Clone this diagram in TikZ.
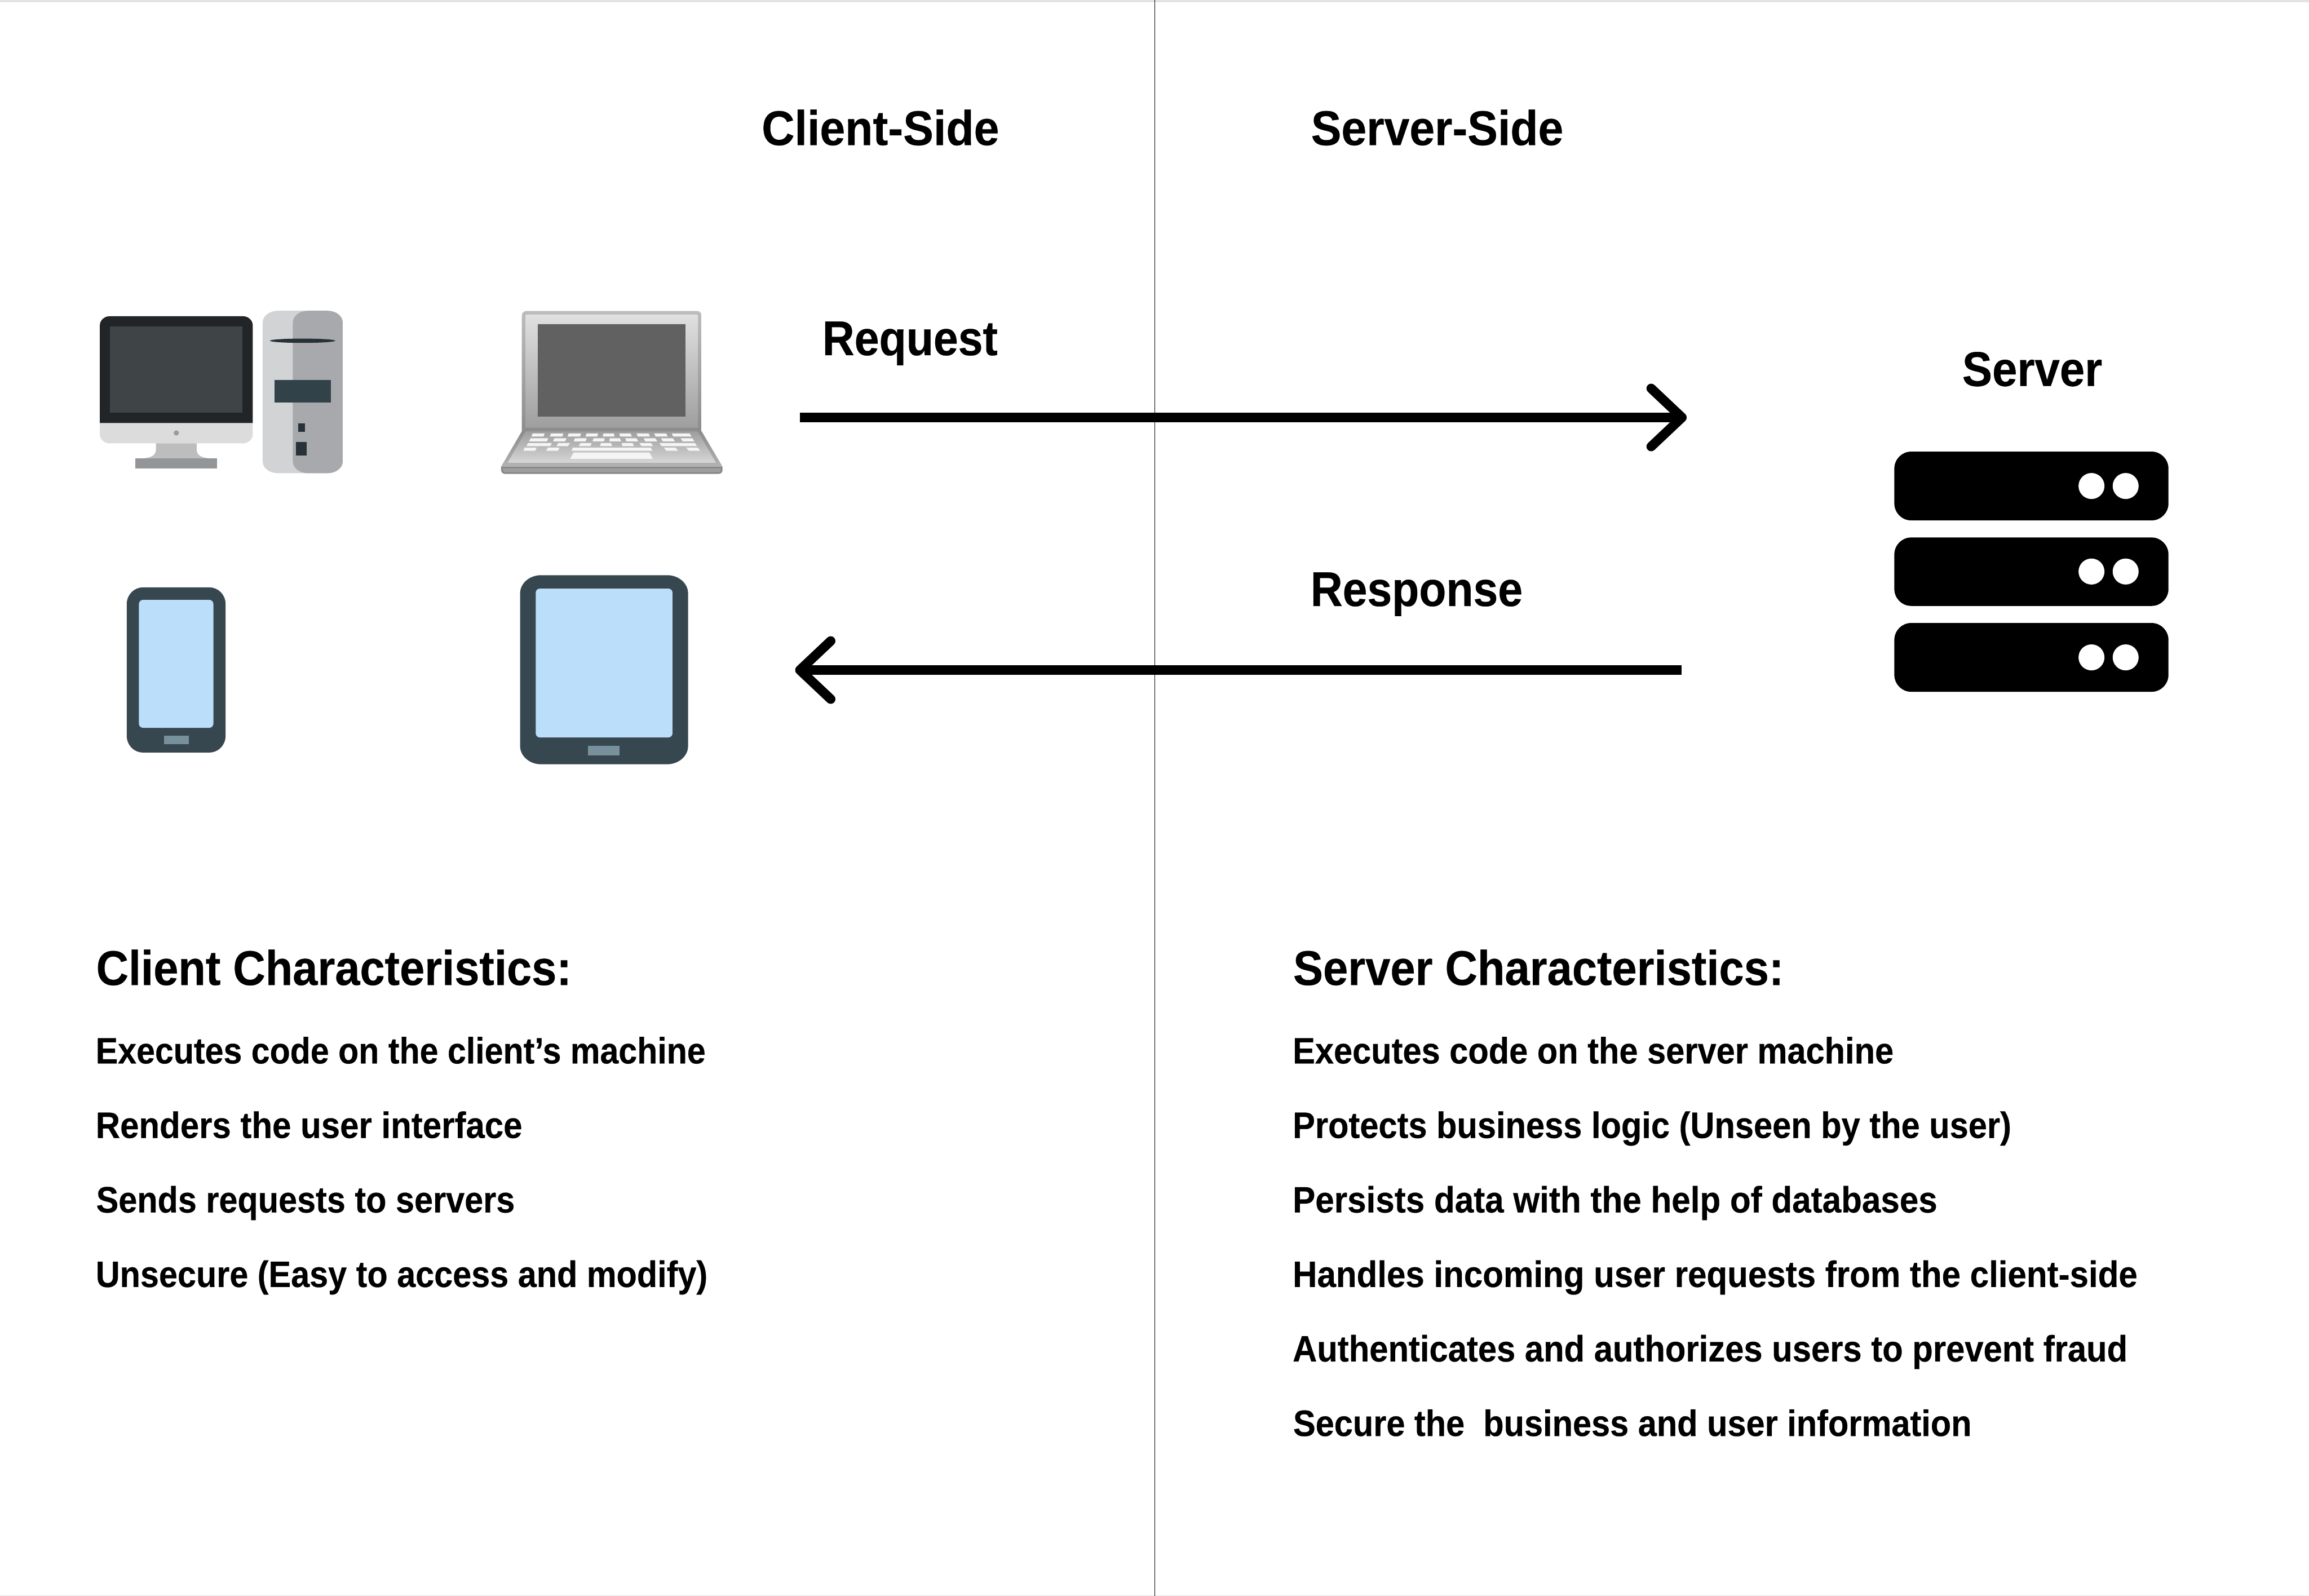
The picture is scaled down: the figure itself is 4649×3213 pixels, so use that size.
\documentclass[tikz,border=0pt]{standalone}
\usepackage{fontspec}
\usepackage{graphicx}
\setmainfont[BoldFeatures={FakeBold=0.4}]{Liberation Sans}
\usetikzlibrary{arrows.meta}
\newlength{\ulen}\setlength{\ulen}{0.01cm}
\newcommand{\fitw}[2]{\resizebox{#1\ulen}{\height}{#2}}
\newcommand{\rrpath}[6]{({#1+#5},#2) -- ({#3-#5},#2) .. controls ({#3-.45*#5},#2) and (#3,{#2+.45*#6}) .. (#3,{#2+#6}) -- (#3,{#4-#6}) .. controls (#3,{#4-.45*#6}) and ({#3-.45*#5},#4) .. ({#3-#5},#4) -- ({#1+#5},#4) .. controls ({#1+.45*#5},#4) and (#1,{#4-.45*#6}) .. (#1,{#4-#6}) -- (#1,{#2+#6}) .. controls (#1,{#2+.45*#6}) and ({#1+.45*#5},#2) .. ({#1+#5},#2) -- cycle}
\newcommand{\kbkey}[6]{\fill[keycol] (#1,#5) -- (#2,#5) -- (#3,#6) -- (#4,#6) -- cycle;}
\newcommand{\kbrow}[3]{\foreach \ka/\kb/\kc/\kd in {#3} {\kbkey{\ka}{\kb}{\kc}{\kd}{#1}{#2}}}
\definecolor{keycol}{HTML}{F5F5F5}
\definecolor{slate}{HTML}{37474F}
\definecolor{skyscreen}{HTML}{BBDEFB}
\definecolor{slatebtn}{HTML}{78909C}
\definecolor{edgeband}{HTML}{E3E3E3}
\definecolor{monsilver}{RGB}{220,220,220}
\definecolor{mondark}{RGB}{33,37,40}
\definecolor{monscreen}{RGB}{63,68,71}
\definecolor{mondot}{RGB}{154,157,159}
\definecolor{monstand}{RGB}{189,189,189}
\definecolor{monbase}{RGB}{147,150,152}
\definecolor{towerlight}{RGB}{209,211,212}
\definecolor{towerdark}{RGB}{167,169,172}
\definecolor{towerslot}{RGB}{38,50,56}
\definecolor{towerpanel}{RGB}{49,67,73}
\tikzset{
  headtext/.style={anchor=base west,inner sep=0pt,font=\bfseries\fontsize{27.9pt}{30pt}\selectfont},
  bodytext/.style={anchor=base west,inner sep=0pt,font=\bfseries\fontsize{21pt}{24pt}\selectfont},
  flow/.style={line width=0.19cm,-{Straight Barb[length=0.62cm,width=1.17cm,round]}},
  divider/.style={line width=0.014cm,black}
}
\begin{document}
\begin{tikzpicture}[x=0.01cm,y=-0.01cm]
\useasboundingbox (0,0) rectangle (4649,3213);
\fill[white] (0,0) rectangle (4649,3213);
\fill[edgeband] (0,0) rectangle (4649,4);
\fill[edgeband] (0,3212) rectangle (4649,3213);
\coordinate (divtop) at (2325,0);
\coordinate (divbot) at (2325,3213);
\draw[divider] (divtop) -- (divbot);

% desktop
\begin{scope}[shift={(160,590)},xscale=1/2.8,yscale=1/3]
\fill[monsilver] (115,785) -- (115,853) .. controls (115,883) and (140,908) .. (170,908) -- (922,908) .. controls (952,908) and (977,883) .. (977,853) -- (977,785) -- cycle;
\fill[mondark] (115,785) -- (115,195) .. controls (115,165) and (140,140) .. (170,140) -- (922,140) .. controls (952,140) and (977,165) .. (977,195) -- (977,785) -- cycle;
\fill[monscreen] (173,203) rectangle (918,724);
\fill[mondot] (546,845) ellipse [x radius=15,y radius=16];
\fill[monstand] (431,908) -- (431,945) .. controls (431,990) and (390,1000) .. (316,1000) -- (776,1000) .. controls (702,1000) and (661,990) .. (661,945) -- (661,908) -- cycle;
\fill[monbase] (316,1000) rectangle (776,1061);
\fill[towerlight] \rrpath{1033}{107}{1484}{1088}{85}{70};
\fill[towerdark] \rrpath{1203}{107}{1484}{1088}{85}{70};
\fill[towerslot] (1258,288) ellipse [x radius=184,y radius=13];
\fill[towerpanel] (1100,525) rectangle (1418,661);
\fill[towerslot] (1232,786) rectangle (1270,839);
\fill[towerslot] (1221,898) rectangle (1281,980);
\end{scope}

% laptop
\begin{scope}[shift={(980,600)},scale=1/3]
\shade[top color=black!26,bottom color=black!45] (212,805) -- (212,108) .. controls (212,90) and (225,78) .. (240,78) -- (1270,78) .. controls (1285,78) and (1298,90) .. (1298,108) -- (1298,805) -- cycle;
\shade[top color=black!12,bottom color=black!38] (234,783) -- (234,108) .. controls (234,104) and (237,100) .. (242,100) -- (1268,100) .. controls (1272,100) and (1276,104) .. (1276,108) -- (1276,783) -- cycle;
\fill[black!62] (309,158) rectangle (1199,717);
\shade[top color=black!45,bottom color=black!30] (212,805) -- (87,1018) -- (1424,1018) -- (1298,805) -- cycle;
\shade[top color=black!38,bottom color=black!16] (236,805) -- (126,995) -- (1385,995) -- (1274,805) -- cycle;
\fill[black!47] (87,1018) -- (1424,1018) -- (1424,1040) .. controls (1424,1052) and (1414,1062) .. (1402,1062) -- (109,1062) .. controls (97,1062) and (87,1052) .. (87,1040) -- cycle;
\fill[black!38] (97,1028) -- (1414,1028) -- (1414,1040) .. controls (1414,1046) and (1408,1052) .. (1402,1052) -- (109,1052) .. controls (103,1052) and (97,1046) .. (97,1040) -- cycle;
\kbrow{818}{837}{277/350/343/270,388/463/456/381,495/570/563/488,603/673/667/597,705/768/772/701,801/868/877/806,905/978/986/913,1011/1084/1093/1020,1118/1226/1237/1127}
\kbrow{847}{866}{265/372/363/255,408/482/473/401,532/605/596/526,645/713/708/639,743/805/811/741,837/905/915/843,948/1018/1030/958,1053/1124/1137/1064,1171/1242/1254/1184}
\kbrow{876}{895}{250/393/383/240,432/503/490/421,565/634/626/557,689/752/756/685,815/881/890/819,922/992/1005/935,1044/1258/1270/1056}
\kbrow{904}{923}{229/301/293/221,368/439/431/359,520/991/1000/512,1071/1140/1156/1085,1205/1274/1290/1221}
\kbrow{933}{971}{525/982/1003/504}
\end{scope}

% phone and tablet
\begin{scope}[shift={(220,1130)},xscale=1/1.3067,yscale=1/3]
\fill[slate] \rrpath{46}{158}{306}{1155}{42}{100};
\fill[skyscreen] \rrpath{78}{233}{274}{1006}{11}{25};
\fill[slatebtn] (144,1053) rectangle (209,1106);
\fill[slate] \rrpath{1081}{84}{1523}{1226}{55}{110};
\fill[skyscreen] \rrpath{1122}{165}{1482}{1064}{11}{25};
\fill[slatebtn] (1260,1116) rectangle (1343,1172);
\end{scope}

% server
\begin{scope}[shift={(3780,880)},xscale=1/2.529,yscale=1/2.904]
\foreach \ya/\yb/\yc in {85/487/286,587/987/786,1087/1489/1288}{
  \fill[black] \rrpath{86}{\ya}{1482}{\yb}{85}{100};
  \fill[white] (1090,\yc) ellipse [x radius=66,y radius=76];
  \fill[white] (1264,\yc) ellipse [x radius=66,y radius=76];
}
\end{scope}

% connectors
\coordinate (reqstart) at (1610,840.5);
\coordinate (reqend) at (3396,840.5);
\coordinate (respstart) at (3386,1349);
\coordinate (respend) at (1601,1349);
\draw[flow] (reqstart) -- (reqend);
\draw[flow] (respstart) -- (respend);

% labels
\node[headtext] (clientside) at (1533,292) {\fitw{478}{Client-Side}};
\node[headtext] (serverside) at (2639,292) {\fitw{508}{Server-Side}};
\node[headtext] (request) at (1655,715) {\fitw{353}{Request}};
\node[headtext] (response) at (2638,1220) {\fitw{427}{Response}};
\node[headtext] (server) at (3950,777) {\fitw{282}{Server}};
\node[headtext] (clienthead) at (193,1983) {\fitw{957}{Client Characteristics:}};
\node[headtext] (serverhead) at (2603,1983) {\fitw{988}{Server Characteristics:}};
\node[bodytext] (c1) at (192,2141) {\fitw{1228}{Executes code on the client’s machine}};
\node[bodytext] (c2) at (192,2291) {\fitw{859}{Renders the user interface}};
\node[bodytext] (c3) at (193,2441) {\fitw{843}{Sends requests to servers}};
\node[bodytext] (c4) at (192,2591) {\fitw{1232}{Unsecure (Easy to access and modify)}};
\node[bodytext] (s1) at (2602,2141) {\fitw{1210}{Executes code on the server machine}};
\node[bodytext] (s2) at (2602,2291) {\fitw{1447}{Protects business logic (Unseen by the user)}};
\node[bodytext] (s3) at (2602,2441) {\fitw{1298}{Persists data with the help of databases}};
\node[bodytext] (s4) at (2602,2591) {\fitw{1701}{Handles incoming user requests from the client-side}};
\node[bodytext] (s5) at (2602,2741) {\fitw{1681}{Authenticates and authorizes users to prevent fraud}};
\node[bodytext] (s6) at (2603,2891) {\fitw{1366}{Secure the\ \ business and user information}};
\end{tikzpicture}
\end{document}
